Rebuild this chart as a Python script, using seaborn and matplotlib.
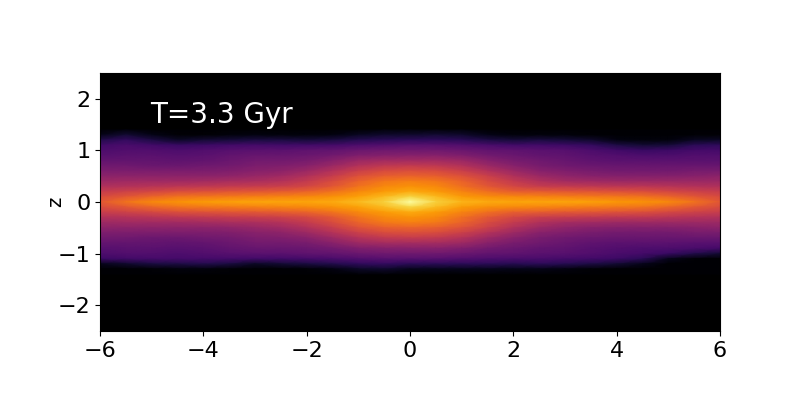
import numpy as np
import pandas as pd
import matplotlib
matplotlib.use("Agg")
import matplotlib.pyplot as plt
import seaborn as sns

# Density, as positions on the inferno colour scale (0-1)
x_values = [-6, -5.5, -5, -4.5, -4, -3.5, -3, -2.5, -2, -1.5, -1, -0.5, 0,
            0.5, 1, 1.5, 2, 2.5, 3, 3.5, 4, 4.5, 5, 5.5, 6]
z_values = [1.4, 1.3, 1.2, 1.1, 1.0, 0.9, 0.8, 0.7, 0.6, 0.5, 0.4, 0.3, 0.2, 0.1, 0.0,
            -0.1, -0.2, -0.3, -0.4, -0.5, -0.6, -0.7, -0.8, -0.9, -1.0, -1.1, -1.2, -1.3, -1.4]

z_p14 = [.00,.02,.00,.00,.00,.00,.00,.00,.00,.00,.01,.02,.02,.02,.02,.00,.00,.00,.00,.00,.00,.00,.00,.00,.00]
z_p13 = [.04,.09,.04,.01,.01,.02,.03,.02,.02,.03,.06,.08,.08,.09,.08,.04,.02,.02,.02,.01,.00,.00,.00,.01,.01]
z_p12 = [.13,.17,.12,.07,.09,.10,.11,.11,.10,.11,.14,.15,.16,.16,.15,.12,.10,.11,.10,.08,.03,.02,.02,.06,.07]
z_p11 = [.20,.22,.20,.18,.19,.20,.21,.20,.20,.21,.23,.24,.25,.25,.24,.22,.20,.20,.19,.17,.12,.09,.10,.15,.16]
z_p10 = [.23,.24,.24,.23,.24,.25,.26,.26,.27,.28,.30,.31,.31,.31,.30,.28,.27,.26,.25,.23,.20,.18,.19,.21,.21]
z_p09 = [.25,.26,.26,.25,.26,.28,.29,.29,.30,.32,.35,.36,.37,.37,.35,.32,.30,.28,.27,.25,.24,.23,.23,.24,.24]
z_p08 = [.28,.28,.28,.27,.28,.30,.32,.32,.33,.37,.42,.44,.44,.44,.42,.37,.33,.31,.29,.27,.26,.26,.26,.26,.26]
z_p07 = [.31,.31,.30,.30,.31,.32,.34,.35,.37,.42,.48,.51,.52,.51,.48,.42,.37,.33,.31,.30,.29,.29,.29,.29,.29]
z_p06 = [.34,.34,.34,.34,.34,.35,.37,.38,.42,.48,.54,.58,.59,.58,.54,.48,.42,.37,.35,.33,.32,.32,.32,.33,.33]
z_p05 = [.38,.38,.38,.38,.38,.39,.41,.43,.47,.53,.60,.64,.65,.64,.60,.54,.47,.42,.39,.37,.36,.36,.36,.37,.38]
z_p04 = [.42,.43,.43,.43,.44,.45,.46,.48,.52,.58,.65,.70,.72,.70,.65,.58,.52,.47,.44,.43,.42,.42,.42,.42,.42]
z_p03 = [.47,.48,.49,.50,.51,.52,.53,.54,.57,.62,.69,.74,.76,.74,.68,.62,.57,.53,.52,.51,.50,.50,.49,.48,.47]
z_p02 = [.53,.55,.57,.59,.60,.61,.62,.63,.65,.69,.74,.78,.81,.78,.73,.68,.64,.63,.62,.61,.60,.59,.57,.55,.53]
z_p01 = [.58,.62,.66,.69,.70,.71,.72,.73,.74,.76,.79,.84,.90,.84,.78,.75,.74,.73,.72,.71,.70,.69,.66,.62,.58]
z_000 = [.62,.69,.74,.76,.78,.79,.80,.80,.80,.81,.84,.89,1.0,.89,.83,.81,.80,.80,.80,.79,.77,.76,.74,.69,.62]
z_m01 = [.58,.62,.66,.69,.70,.71,.72,.73,.74,.76,.79,.84,.90,.84,.78,.75,.74,.73,.72,.71,.70,.69,.66,.62,.58]
z_m02 = [.53,.55,.57,.59,.60,.61,.62,.63,.65,.69,.74,.78,.81,.78,.73,.68,.64,.63,.62,.61,.60,.59,.57,.55,.53]
z_m03 = [.47,.48,.49,.50,.51,.52,.53,.54,.57,.62,.69,.74,.76,.74,.68,.62,.57,.53,.52,.51,.50,.50,.49,.48,.47]
z_m04 = [.42,.43,.43,.43,.44,.45,.46,.48,.52,.58,.65,.70,.72,.70,.65,.58,.52,.47,.44,.43,.42,.42,.42,.42,.42]
z_m05 = [.38,.38,.38,.38,.38,.39,.41,.43,.47,.53,.60,.64,.65,.64,.60,.54,.47,.42,.39,.37,.36,.36,.36,.37,.38]
z_m06 = [.34,.34,.34,.34,.34,.35,.37,.38,.42,.48,.54,.58,.59,.58,.54,.48,.42,.37,.35,.33,.32,.32,.32,.33,.33]
z_m07 = [.31,.31,.30,.30,.31,.32,.34,.35,.37,.42,.48,.51,.52,.51,.48,.42,.37,.33,.31,.30,.29,.29,.29,.29,.29]
z_m08 = [.28,.28,.28,.27,.28,.30,.32,.32,.33,.37,.42,.44,.44,.44,.42,.37,.33,.31,.29,.27,.26,.26,.26,.25,.25]
z_m09 = [.25,.26,.26,.25,.26,.28,.29,.29,.30,.32,.35,.36,.37,.37,.35,.32,.30,.28,.27,.25,.24,.23,.23,.22,.21]
z_m10 = [.23,.24,.24,.23,.24,.25,.26,.26,.27,.28,.30,.31,.31,.31,.30,.28,.27,.26,.25,.24,.22,.21,.18,.13,.09]
z_m11 = [.19,.20,.21,.21,.21,.21,.20,.20,.21,.22,.24,.25,.25,.25,.24,.23,.22,.22,.21,.20,.19,.15,.05,.01,.00]
z_m12 = [.05,.08,.11,.12,.13,.11,.07,.09,.11,.13,.16,.17,.15,.15,.15,.15,.14,.15,.14,.12,.09,.05,.00,.00,.00]
z_m13 = [.00,.00,.01,.02,.02,.01,.00,.00,.01,.03,.07,.08,.05,.05,.05,.05,.04,.04,.03,.01,.00,.00,.00,.00,.00]
z_m14 = [.00,.00,.00,.00,.00,.00,.00,.00,.00,.00,.01,.01,.00,.00,.00,.00,.00,.00,.00,.00,.00,.00,.00,.00,.00]

x_ticks = [-6, -4, -2, 0, 2, 4, 6]
z_ticks = [-2, -1, 0, 1, 2]
label = "T=3.3 Gyr"

rows = [z_p14, z_p13, z_p12, z_p11, z_p10, z_p09, z_p08, z_p07, z_p06, z_p05,
        z_p04, z_p03, z_p02, z_p01, z_000, z_m01, z_m02, z_m03, z_m04, z_m05,
        z_m06, z_m07, z_m08, z_m09, z_m10, z_m11, z_m12, z_m13, z_m14]
density = pd.DataFrame(rows, index=z_values, columns=x_values)

plt.rcParams["font.family"] = "DejaVu Sans"
fig = plt.figure(figsize=(8, 4), dpi=100)
ax = fig.add_axes([0.125, 0.1725, 0.775, 0.645])
ax.set_facecolor("black")
sns.heatmap(density, ax=ax, cmap="inferno", vmin=0, vmax=1, cbar=False,
            shading="gouraud", xticklabels=False, yticklabels=False)

# The heatmap works in cell indices: convert data values to them
def col(x):
    return np.interp(x, x_values, np.arange(len(x_values)))

def row(z):
    return (z_values[0] - np.asarray(z, dtype=float)) / (z_values[0] - z_values[1])

ax.set_xlim(col(-6), col(6))
ax.set_ylim(row(-2.5), row(2.5))
ax.set_xticks(col(x_ticks))
ax.set_xticklabels([f"{v}".replace("-", "\u2212") for v in x_ticks], fontsize=16, rotation=0)
ax.set_yticks(row(z_ticks))
ax.set_yticklabels([f"{v}".replace("-", "\u2212") for v in z_ticks], fontsize=16, rotation=0)
ax.tick_params(length=3.5, width=0.8, left=True, bottom=True)
ax.set_xlabel("")
ax.set_ylabel("z", fontsize=14, labelpad=-5.5)
for s in ax.spines.values():
    s.set_visible(True)
    s.set_linewidth(0.8)
ax.text(col(-5.03), row(1.68), label, color="white", fontsize=20, ha="left", va="center")
fig.savefig("out.png", dpi=100)
